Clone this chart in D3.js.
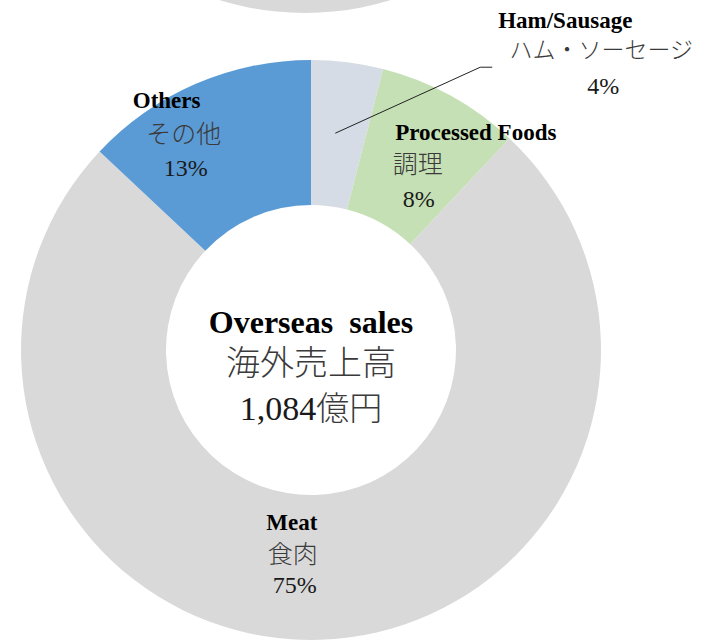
<!DOCTYPE html>
<html>
<head>
<meta charset="utf-8">
<script src="https://cdn.jsdelivr.net/npm/d3@7"></script>
<style>
  body { margin: 0; background: #fff; }
  svg { display: block; }
  .en { font-family: "Liberation Serif", "Times New Roman", serif; font-weight: bold; fill: #000; }
  .ja { font-family: "Noto Sans CJK JP", sans-serif; font-weight: 300; fill: #3a3a3a; }
  .num { font-family: "Liberation Serif", "Times New Roman", serif; fill: #1a1a1a; }
</style>
</head>
<body>
<svg id="chart" width="701" height="643"></svg>
<script>
// ---- data ----
const categories = ["Ham/Sausage", "Processed Foods", "Meat", "Others"];
const categoriesJa = ["ハム・ソーセージ", "調理", "食肉", "その他"];
const shares = [4, 8, 75, 13];
const colors = ["#d6dce5", "#c5e0b4", "#d9d9d9", "#5b9bd5"];
const centerTitle = "Overseas  sales";
const centerTitleJa = "海外売上高";
const centerAmount = "1,084";
const centerUnit = "億円";

const svg = d3.select("#chart");
const cx = 311, cy = 350;
const outerR = 290, innerR = 145;

// piece of the previous donut peeking in at the top
svg.append("path")
  .attr("transform", `translate(305,${13 - outerR})`)
  .attr("d", d3.arc().innerRadius(innerR).outerRadius(outerR)({startAngle: 0, endAngle: 2 * Math.PI}))
  .attr("fill", "#d9d9d9");

const pie = d3.pie().sort(null).value(d => d);
const arc = d3.arc().innerRadius(innerR).outerRadius(outerR);
const arcs = pie(shares);

const g = svg.append("g").attr("transform", `translate(${cx},${cy})`);

g.selectAll("path.slice")
  .data(arcs)
  .enter().append("path")
  .attr("class", "slice")
  .attr("d", arc)
  .attr("fill", (d, i) => colors[i]);

// label offsets from each slice centroid: [english, japanese, percent] as [dx, dy]
const labelOffsets = [
  [[227, -106], [263, -76], [265, -40]],
  [[60, -19], [2, 14], [3, 48]],
  [[-26, -37], [-25, -4], [-23, 26]],
  [[-58, -42], [-41, -7], [-39, 26]]
];
const fontSizes = {en: 23, ja: 25, num: 24};

arcs.forEach((d, i) => {
  const [x, y] = arc.centroid(d);
  const off = labelOffsets[i];
  g.append("text").attr("class", "en")
    .attr("x", x + off[0][0]).attr("y", y + off[0][1])
    .attr("text-anchor", "middle").attr("font-size", fontSizes.en)
    .text(categories[i]);
  g.append("text").attr("class", "ja")
    .attr("x", x + off[1][0]).attr("y", y + off[1][1])
    .attr("text-anchor", "middle").attr("font-size", i === 0 ? 23 : fontSizes.ja)
    .text(categoriesJa[i]);
  g.append("text").attr("class", "num")
    .attr("x", x + off[2][0]).attr("y", y + off[2][1])
    .attr("text-anchor", "middle").attr("font-size", fontSizes.num)
    .text(shares[i] + "%");
});

// leader line for the small Ham/Sausage slice
const [hx, hy] = arc.centroid(arcs[0]);
g.append("path")
  .attr("d", d3.line()([[hx - 3, hy - 1], [hx + 142, hy - 67], [hx + 154, hy - 67]]))
  .attr("fill", "none")
  .attr("stroke", "#222")
  .attr("stroke-width", 1);

// center text
g.append("text").attr("class", "en")
  .attr("text-anchor", "middle").attr("y", -17)
  .attr("font-size", 32)
  .style("white-space", "pre")
  .text(centerTitle);
g.append("text").attr("class", "ja")
  .attr("text-anchor", "middle").attr("y", 25)
  .attr("font-size", 34)
  .text(centerTitleJa);
const amt = g.append("text")
  .attr("text-anchor", "middle").attr("y", 70);
amt.append("tspan").attr("class", "num").attr("font-size", 34).text(centerAmount);
amt.append("tspan").attr("class", "ja").attr("font-size", 33).text(centerUnit);
</script>
</body>
</html>
